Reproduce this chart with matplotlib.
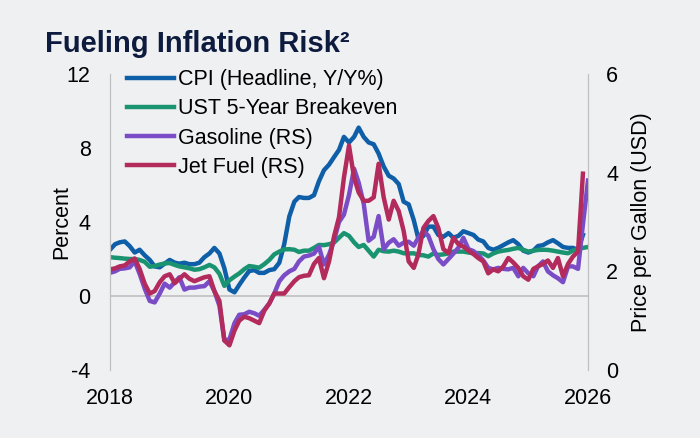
import numpy as np
import pandas as pd
import matplotlib
matplotlib.use("Agg")
import matplotlib.pyplot as plt
import matplotlib.dates as mdates

# データ (月次, 2018年1月から)
cpi = [2.5, 2.8, 2.9, 2.95, 2.7, 2.35, 2.5, 2.2, 1.95, 1.6, 1.55, 1.75,
       1.95, 1.8, 1.75, 1.8, 1.72, 1.72, 1.8, 2.1, 2.3, 2.6, 2.3, 1.5,
       0.35, 0.2, 0.6, 1.0, 1.35, 1.4, 1.25, 1.25, 1.4, 1.45, 1.8, 2.8,
       4.3, 5.1, 5.35, 5.3, 5.3, 5.45, 6.2, 6.8, 7.1, 7.5, 7.9, 8.6,
       8.3, 8.6, 9.1, 8.6, 8.3, 8.2, 7.7, 7.0, 6.5, 6.35, 6.05, 5.1,
       4.95, 4.1, 3.1, 3.25, 3.75, 3.75, 3.3, 3.2, 3.4, 3.15, 3.25, 3.5,
       3.4, 3.3, 3.05, 2.95, 2.6, 2.5, 2.6, 2.75, 2.9, 3.02, 2.8, 2.45,
       2.35, 2.45, 2.7, 2.75, 2.9, 3.02, 2.85, 2.65, 2.6, 2.6, 2.5, 3.3]
breakeven = [2.1, 2.07, 2.05, 2.02, 2.0, 2.0, 1.95, 1.85, 1.58, 1.62, 1.7, 1.76,
             1.78, 1.68, 1.6, 1.55, 1.5, 1.42, 1.45, 1.55, 1.68, 1.55, 1.2, 0.55,
             0.85, 1.05, 1.22, 1.45, 1.62, 1.58, 1.53, 1.72, 1.95, 2.25, 2.4, 2.52,
             2.53, 2.5, 2.38, 2.45, 2.45, 2.6, 2.76, 2.75, 2.8, 2.88, 3.15, 3.4,
             3.25, 2.9, 2.65, 2.76, 2.45, 2.13, 2.5, 2.42, 2.4, 2.45, 2.4, 2.31,
             2.3, 2.31, 2.22, 2.2, 2.13, 2.3, 2.22, 2.25, 2.3, 2.4, 2.4, 2.4,
             2.35, 2.31, 2.32, 2.3, 2.15, 2.3, 2.4, 2.45, 2.49, 2.55, 2.6, 2.5,
             2.4, 2.45, 2.49, 2.5, 2.49, 2.45, 2.4, 2.35, 2.31, 2.45, 2.55, 2.6, 2.65]
gasoline = [1.97, 2.0, 2.05, 2.06, 2.08, 2.2, 1.95, 1.65, 1.4, 1.37, 1.55, 1.75,
            1.67, 1.78, 1.88, 1.63, 1.67, 1.67, 1.69, 1.7, 1.8, 1.6, 1.3, 0.6,
            0.62, 0.95, 1.12, 1.13, 1.18, 1.15, 1.1, 1.22, 1.35, 1.55, 1.8, 1.92,
            2.0, 2.05, 2.2, 2.3, 2.32, 2.36, 2.5, 2.14, 2.34, 2.62, 3.0, 3.15,
            3.55, 4.08, 3.8, 3.37, 2.62, 2.7, 3.12, 2.45, 2.58, 2.65, 2.52, 2.58,
            2.6, 2.52, 2.68, 2.82, 2.72, 2.45, 2.25, 2.14, 2.25, 2.36, 2.48, 2.68,
            2.45, 2.41, 2.33, 2.22, 2.07, 2.04, 2.07, 2.05, 2.04, 2.07, 1.9, 2.07,
            1.96, 1.9, 2.1, 2.2, 2.0, 1.92, 1.86, 1.78, 2.1, 2.1, 2.05, 2.95, 3.84]
jet_fuel = [2.04, 2.06, 2.1, 2.12, 2.2, 2.26, 2.05, 1.75, 1.55, 1.6, 1.78, 1.9,
            1.94, 1.76, 1.85, 1.94, 1.85, 1.8, 1.84, 1.88, 1.9, 1.6, 1.4, 0.6,
            0.5, 0.8, 1.0, 1.08, 1.05, 1.0, 0.95, 1.2, 1.35, 1.55, 1.55, 1.55,
            1.68, 1.8, 1.88, 1.91, 1.92, 2.15, 2.27, 1.86, 2.2, 2.7, 3.1, 3.9,
            4.55, 3.9, 3.6, 3.43, 3.43, 3.5, 4.18, 3.5, 3.05, 3.43, 3.22, 2.82,
            2.2, 2.07, 2.34, 2.88, 3.02, 3.12, 2.88, 2.45, 2.37, 2.68, 2.55, 2.5,
            2.42, 2.35, 2.27, 2.2, 1.96, 2.04, 2.0, 2.1, 2.27, 2.18, 2.07, 1.9,
            1.83, 2.05, 2.1, 2.15, 2.22, 2.07, 2.27, 1.9, 2.15, 2.3, 2.4, 3.98]

labels = ["CPI (Headline, Y/Y%)", "UST 5-Year Breakeven", "Gasoline (RS)", "Jet Fuel (RS)"]
colors = ["#0F5FA8", "#1A9470", "#7A4CC6", "#B32A5C"]
years = [2018, 2020, 2022, 2024, 2026]

def dates(n):
    return pd.date_range("2018-01-01", periods=n, freq="MS")

bg = "#EFF0F2"
grey = "#BFBFBF"
fs = 15.5
plt.rcParams["font.family"] = ["Liberation Sans", "DejaVu Sans"]
plt.rcParams["axes.unicode_minus"] = False

fig = plt.figure(figsize=(7, 4.38), dpi=100, facecolor=bg)
ax = fig.add_axes([110/700, 1-370/438, 478/700, 296/438])
ax.set_facecolor(bg)
ax2 = ax.twinx()

l1, = ax.plot(dates(len(cpi)), cpi, color=colors[0], lw=3.2, solid_joinstyle="round")
l2, = ax.plot(dates(len(breakeven)), breakeven, color=colors[1], lw=3.2, solid_joinstyle="round")
l3, = ax2.plot(dates(len(gasoline)), gasoline, color=colors[2], lw=3.2, solid_joinstyle="round")
l4, = ax2.plot(dates(len(jet_fuel)), jet_fuel, color=colors[3], lw=3.2, solid_joinstyle="round")

ax.axhline(0, color=grey, lw=1.2, zorder=0)
ax.set_ylim(-4, 12)
ax.set_yticks([-4, 0, 4, 8, 12])
ax2.set_ylim(0, 6)
ax2.set_yticks([0, 2, 4, 6])
ax.set_xlim(pd.Timestamp("2018-01-01"), pd.Timestamp("2026-01-01"))
ax.set_xticks([pd.Timestamp(f"{y}-01-01") for y in years])
ax.xaxis.set_major_formatter(mdates.DateFormatter("%Y"))

for a in (ax, ax2):
    for s in ("top", "bottom"):
        a.spines[s].set_visible(False)
    a.spines["left"].set_color(grey)
    a.spines["right"].set_color(grey)
    a.tick_params(length=0, labelsize=fs, colors="black")
ax.tick_params(axis="y", pad=14)
ax.tick_params(axis="x", pad=13)
ax2.tick_params(axis="y", pad=13)

ax.set_ylabel("Percent", fontsize=fs, labelpad=-4)
ax2.set_ylabel("Price per Gallon (USD)", fontsize=fs, labelpad=9)

ax2.legend([l1, l2, l3, l4], labels, loc="upper left", bbox_to_anchor=(0.017, 1.045),
           frameon=False, fontsize=fs, handlelength=2.2, handletextpad=0.2,
           labelspacing=0.38, borderaxespad=0)

fig.text(45/700, 1-44/438, "Fueling Inflation Risk²", fontsize=21, fontweight="bold",
         color="#0D1B3E", va="center", ha="left")

fig.savefig("out.png", dpi=100, facecolor=bg)
